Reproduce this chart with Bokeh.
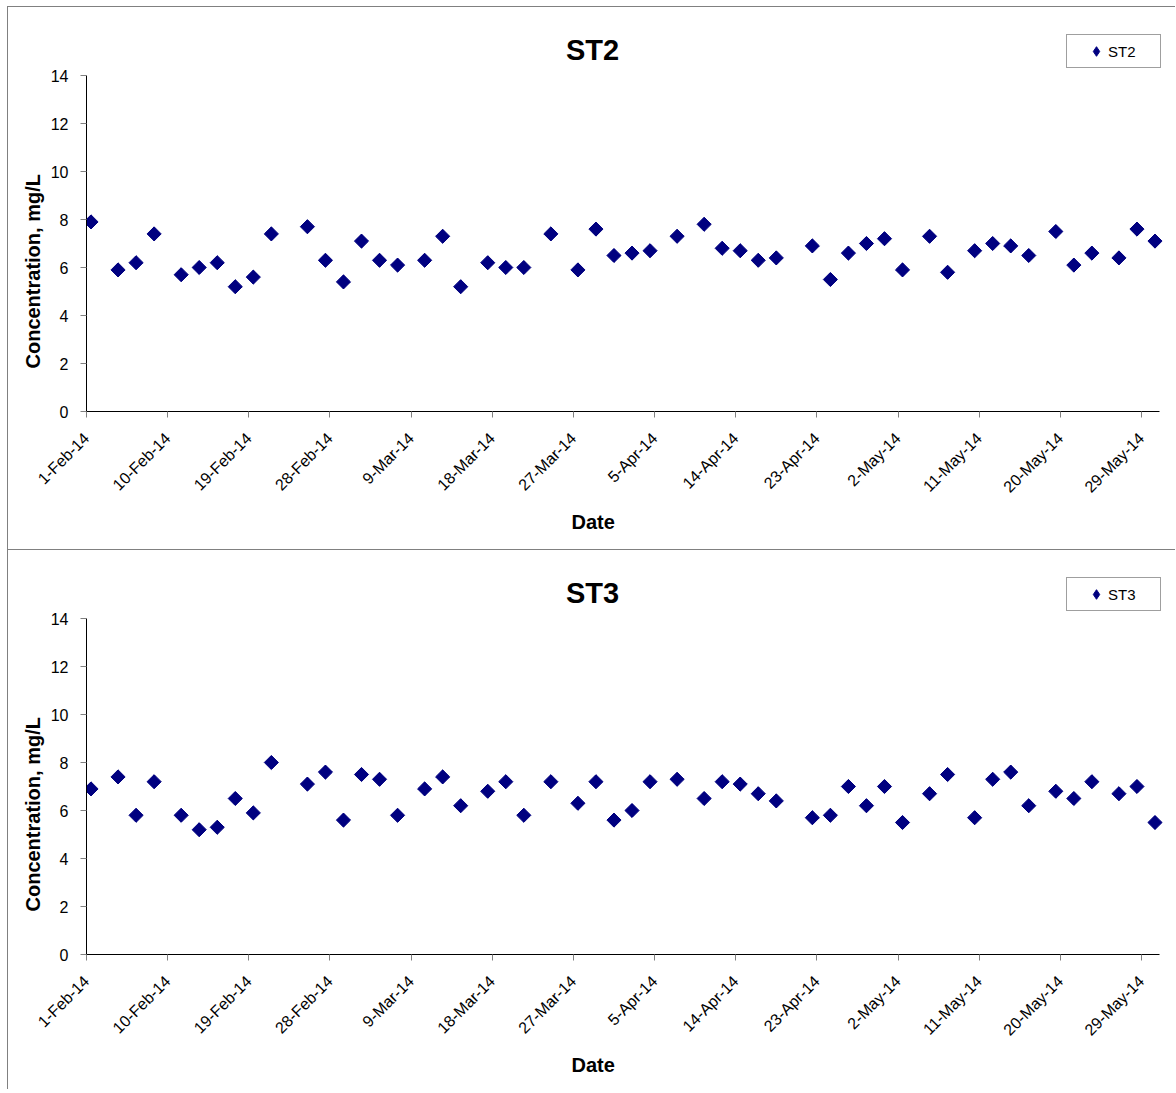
import math
import pandas as pd
from bokeh.plotting import figure
from bokeh.models import (FixedTicker, Legend, LegendItem, Label, ColumnDataSource,
                          Range1d, Title, Spacer)
from bokeh.layouts import column, row
from bokeh.embed import file_html
from bokeh.resources import INLINE

# ---------------- data ----------------
dates = ["2014-02-01", "2014-02-04", "2014-02-06", "2014-02-08", "2014-02-11", "2014-02-13",
         "2014-02-15", "2014-02-17", "2014-02-19", "2014-02-21", "2014-02-25", "2014-02-27",
         "2014-03-01", "2014-03-03", "2014-03-05", "2014-03-07", "2014-03-10", "2014-03-12",
         "2014-03-14", "2014-03-17", "2014-03-19", "2014-03-21", "2014-03-24", "2014-03-27",
         "2014-03-29", "2014-03-31", "2014-04-02", "2014-04-04", "2014-04-07", "2014-04-10",
         "2014-04-12", "2014-04-14", "2014-04-16", "2014-04-18", "2014-04-22", "2014-04-24",
         "2014-04-26", "2014-04-28", "2014-04-30", "2014-05-02", "2014-05-05", "2014-05-07",
         "2014-05-10", "2014-05-12", "2014-05-14", "2014-05-16", "2014-05-19", "2014-05-21",
         "2014-05-23", "2014-05-26", "2014-05-28", "2014-05-30"]

st2 = [7.9, 5.9, 6.2, 7.4, 5.7, 6.0, 6.2, 5.2, 5.6, 7.4,
       7.7, 6.3, 5.4, 7.1, 6.3, 6.1, 6.3, 7.3, 5.2, 6.2,
       6.0, 6.0, 7.4, 5.9, 7.6, 6.5, 6.6, 6.7, 7.3, 7.8,
       6.8, 6.7, 6.3, 6.4, 6.9, 5.5, 6.6, 7.0, 7.2, 5.9,
       7.3, 5.8, 6.7, 7.0, 6.9, 6.5, 7.5, 6.1, 6.6, 6.4,
       7.6, 7.1]

st3 = [6.9, 7.4, 5.8, 7.2, 5.8, 5.2, 5.3, 6.5, 5.9, 8.0,
       7.1, 7.6, 5.6, 7.5, 7.3, 5.8, 6.9, 7.4, 6.2, 6.8,
       7.2, 5.8, 7.2, 6.3, 7.2, 5.6, 6.0, 7.2, 7.3, 6.5,
       7.2, 7.1, 6.7, 6.4, 5.7, 5.8, 7.0, 6.2, 7.0, 5.5,
       6.7, 7.5, 5.7, 7.3, 7.6, 6.2, 6.8, 6.5, 7.2, 6.7,
       7.0, 5.5]

x_tick_labels = ["1-Feb-14", "10-Feb-14", "19-Feb-14", "28-Feb-14", "9-Mar-14", "18-Mar-14",
                 "27-Mar-14", "5-Apr-14", "14-Apr-14", "23-Apr-14", "2-May-14", "11-May-14",
                 "20-May-14", "29-May-14"]
y_ticks = [0, 2, 4, 6, 8, 10, 12, 14]
axis_start = "2014-02-01"
axis_end = "2014-05-31"

# ---------------- helpers ----------------
t0 = pd.Timestamp(axis_start)
x_days = [(pd.Timestamp(d) - t0).days + 0.5 for d in dates]   # points sit mid-day
tick_pos = [(pd.to_datetime(s, format="%d-%b-%y") - t0).days for s in x_tick_labels]
x_max = (pd.Timestamp(axis_end) - t0).days

FONT = "Liberation Sans"
NAVY = "#000080"
PX_PER_UNIT = 24.0          # vertical scale of the value axis
HEADROOM_PX = 58            # space above 14 (inside the frame) for title + legend
Y_TOP = 14 + HEADROOM_PX / PX_PER_UNIT
AXIS_PX = 1073              # length of the date axis in pixels
FRAME_PX = 1085             # frame width (a little wider, for the key box)
X_VIEW_END = x_max * FRAME_PX / AXIS_PX


def make_panel(name, values, height, bottom):
    p = figure(width=1168, height=height, output_backend="svg", toolbar_location=None,
               x_range=Range1d(0, X_VIEW_END), y_range=Range1d(0, Y_TOP),
               min_border_left=78, min_border_right=5,
               min_border_top=10, min_border_bottom=bottom,
               background_fill_color="white", border_fill_color="white",
               outline_line_color=None)
    p.styles = {"border-left": "1px solid #808080", "border-top": "1px solid #808080"}
    p.grid.visible = False

    src = ColumnDataSource(dict(x=x_days, y=values))
    p.scatter("x", "y", source=src, marker="square", angle=math.pi / 4, size=10,
              fill_color=NAVY, line_color=NAVY)
    # same points as plain diamonds (hidden inside the squares); used for the key
    key = p.scatter("x", "y", source=src, marker="diamond", size=13,
                    fill_color=NAVY, line_color=NAVY)

    # axes
    for ax in (p.xaxis[0], p.yaxis[0]):
        ax.axis_line_color = "black"
        ax.axis_line_width = 1
        ax.major_tick_line_color = "#808080"
        ax.major_tick_in = 0
        ax.major_tick_out = 6
        ax.minor_tick_line_color = None
        ax.major_label_text_font = FONT
        ax.major_label_text_font_size = "16px"
        ax.major_label_text_color = "black"
    p.yaxis.ticker = FixedTicker(ticks=y_ticks)
    p.yaxis.bounds = (0, 14)
    p.yaxis.major_label_standoff = 12
    p.xaxis.ticker = FixedTicker(ticks=tick_pos)
    p.xaxis.bounds = (0, x_max)
    p.xaxis.major_label_overrides = {t: lab for t, lab in zip(tick_pos, x_tick_labels)}
    p.xaxis.major_label_orientation = math.pi / 4
    p.xaxis.major_label_standoff = 18

    # axis titles (placed like the original: centred on the chart area)
    p.add_layout(Title(text="Date", align="left", offset=485, standoff=8,
                       text_font=FONT, text_font_style="bold", text_font_size="20px",
                       text_color="black"), "below")
    p.add_layout(Title(text="Concentration, mg/L", align="left", offset=43, standoff=8,
                       text_font=FONT, text_font_style="bold", text_font_size="20px",
                       text_color="black"), "left")

    # chart title inside the head-room of the frame
    p.add_layout(Label(x=506, y=362, x_units="screen", y_units="screen", text=name,
                       text_align="center", text_baseline="alphabetic",
                       text_font=FONT, text_font_style="bold", text_font_size="29px",
                       text_color="black"))

    leg = Legend(items=[LegendItem(label=name, renderers=[key])], location=(980, 343),
                 orientation="vertical", margin=0, padding=4, spacing=0,
                 title=" ", title_location="left", title_text_font_size="10px",
                 title_standoff=2,
                 glyph_width=24, glyph_height=24, label_standoff=0, label_width=48,
                 label_height=24,
                 label_text_font=FONT, label_text_font_size="15px",
                 label_text_color="black",
                 border_line_color="#404040", border_line_width=1,
                 background_fill_color="white", background_fill_alpha=1.0)
    p.add_layout(leg)
    return p


# canvas heights: top chart from y=7 to 550, bottom chart from y=551
p1 = make_panel("ST2", st2, 543, 139)
p2 = make_panel("ST3", st3, 540, 136)

layout = column(Spacer(height=6),
                row(Spacer(width=7), column(p1, p2, spacing=0), spacing=0),
                spacing=0)
open("out.html", "w").write(file_html(layout, INLINE))
